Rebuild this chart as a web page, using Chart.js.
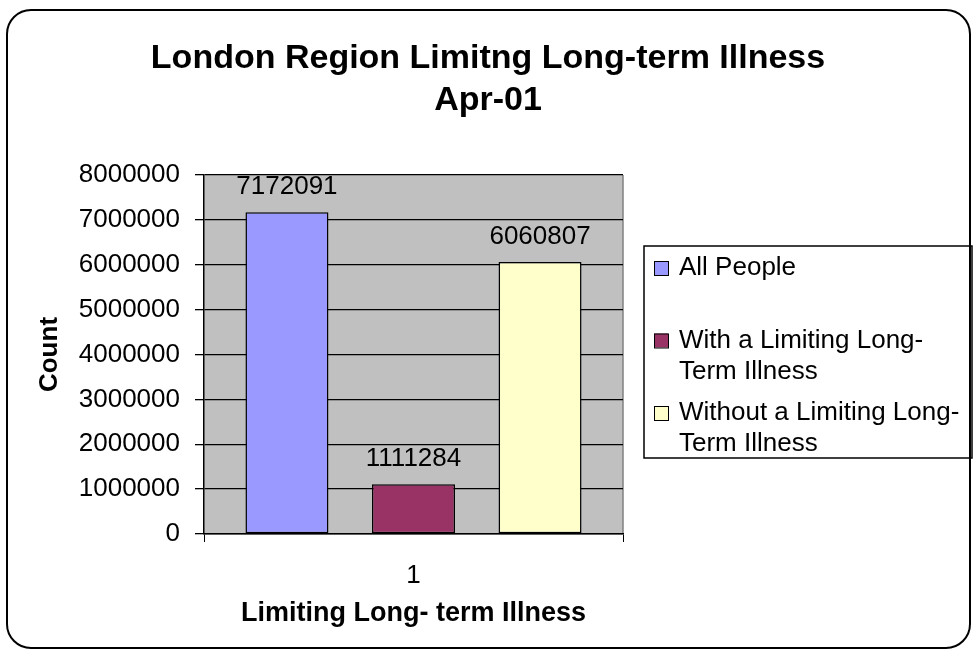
<!DOCTYPE html>
<html>
<head>
<meta charset="utf-8">
<script src="https://cdn.jsdelivr.net/npm/chart.js@4/dist/chart.umd.min.js"></script>
<style>
  html, body { margin: 0; padding: 0; background: #fff; }
  #wrap { width: 976px; height: 651px; position: relative; }
</style>
</head>
<body>
<div id="wrap"><canvas id="chart" width="976" height="651"></canvas></div>
<script>
// valores
const categories = ['1'];
const seriesNames = ['All People', 'With a Limiting Long-Term Illness', 'Without a Limiting Long-Term Illness'];
const legendLines = [['All People'], ['With a Limiting Long-', 'Term Illness'], ['Without a Limiting Long-', 'Term Illness']];
const allPeople = [7172091];
const withIllness = [1111284];
const withoutIllness = [6060807];
const seriesColors = ['#9999FF', '#993366', '#FFFFCC'];
const titleLines = ['London Region Limitng Long-term Illness', 'Apr-01'];
const yTitle = 'Count';
const xTitle = 'Limiting Long- term Illness';

const FONT = "'Liberation Sans', Arial, sans-serif";

// fondo gris del area de trazado
const plotBg = {
  id: 'plotBg',
  beforeDraw(chart) {
    const { ctx, chartArea: a } = chart;
    ctx.save();
    ctx.fillStyle = '#C0C0C0';
    ctx.fillRect(a.left, a.top, a.right - a.left, a.bottom - a.top);
    ctx.strokeStyle = '#808080';
    ctx.lineWidth = 1.5;
    ctx.beginPath();
    ctx.moveTo(a.right, a.top);
    ctx.lineTo(a.right, a.bottom);
    ctx.stroke();
    ctx.restore();
  }
};

// etiquetas de valor encima de cada barra
const valueLabels = {
  id: 'valueLabels',
  afterDatasetsDraw(chart) {
    const { ctx } = chart;
    ctx.save();
    ctx.font = '26px ' + FONT;
    ctx.fillStyle = '#000';
    ctx.textAlign = 'center';
    ctx.textBaseline = 'middle';
    chart.data.datasets.forEach((ds, i) => {
      chart.getDatasetMeta(i).data.forEach((bar, j) => {
        ctx.fillText(String(ds.data[j]), bar.x, bar.y - 25);
      });
    });
    ctx.restore();
  }
};

// leyenda con recuadro y borde redondeado exterior
const boxLegend = {
  id: 'boxLegend',
  afterDraw(chart) {
    const { ctx } = chart;
    ctx.save();
    ctx.strokeStyle = '#000';
    ctx.lineWidth = 1.5;
    ctx.strokeRect(644, 246, 328, 212);
    ctx.font = '26px ' + FONT;
    ctx.textBaseline = 'middle';
    ctx.textAlign = 'left';
    chart.data.datasets.forEach((ds, i) => {
      const y0 = 268 + i * 72.5;
      ctx.fillStyle = ds.backgroundColor;
      ctx.fillRect(654, y0 - 7, 14, 14);
      ctx.lineWidth = 1;
      ctx.strokeRect(654.5, y0 - 6.5, 14, 14);
      ctx.fillStyle = '#000';
      legendLines[i].forEach((line, k) => {
        ctx.fillText(line, 679, y0 + k * 31);
      });
    });
    // borde exterior
    ctx.lineWidth = 2;
    ctx.beginPath();
    ctx.roundRect(7, 10, 963, 638, 24);
    ctx.stroke();
    ctx.restore();
  }
};

const ctx = document.getElementById('chart').getContext('2d');
new Chart(ctx, {
  type: 'bar',
  data: {
    labels: categories,
    datasets: [
      { label: seriesNames[0], data: allPeople, backgroundColor: seriesColors[0] },
      { label: seriesNames[1], data: withIllness, backgroundColor: seriesColors[1] },
      { label: seriesNames[2], data: withoutIllness, backgroundColor: seriesColors[2] }
    ].map(d => Object.assign(d, { borderColor: '#000', borderWidth: 1.5, borderSkipped: false }))
  },
  options: {
    responsive: false,
    animation: false,
    categoryPercentage: 0.906,
    barPercentage: 0.656,
    layout: { padding: 0 },
    plugins: {
      legend: { display: false },
      tooltip: { enabled: false },
      title: {
        display: true,
        text: titleLines,
        color: '#000',
        font: { family: FONT, size: 34, weight: 'bold', lineHeight: 1.25 },
        padding: { top: 37, bottom: 53 }
      }
    },
    scales: {
      x: {
        grid: { display: true, drawOnChartArea: false, drawTicks: true, tickLength: 8, color: '#000', offset: true },
        border: { color: '#000', width: 1.5 },
        ticks: { color: '#000', font: { family: FONT, size: 26 }, padding: 18 },
        title: { display: true, text: xTitle, color: '#000', font: { family: FONT, size: 27, weight: 'bold' }, padding: { top: 0, bottom: 21 } },
        afterFit(scale) { scale.height = 117; }
      },
      y: {
        min: 0,
        max: 8000000,
        grid: { color: '#000', lineWidth: 1.3, tickLength: 9 },
        border: { color: '#000', width: 1.5 },
        ticks: {
          stepSize: 1000000,
          color: '#000',
          font: { family: FONT, size: 26 },
          padding: 15,
          callback: v => String(v)
        },
        title: { display: true, text: yTitle, color: '#000', font: { family: FONT, size: 26, weight: 'bold' }, padding: { top: 34, bottom: 0 } },
        afterFit(scale) { scale.width = 204; }
      },
      // eje vacio a la derecha: reserva el hueco de la leyenda
      yLegend: {
        position: 'right',
        display: true,
        grid: { display: false },
        border: { display: false },
        ticks: { display: false },
        afterFit(scale) { scale.width = 353; }
      }
    }
  },
  plugins: [plotBg, valueLabels, boxLegend]
});
</script>
</body>
</html>
